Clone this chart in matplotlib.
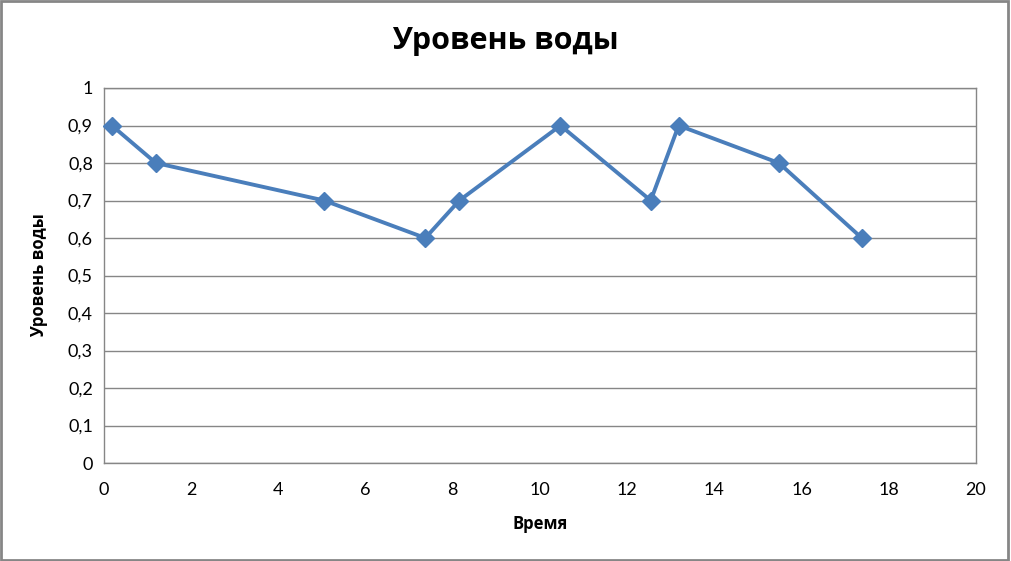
import matplotlib.pyplot as plt
import numpy as np

# water level over time
time = [0.18, 1.19, 5.05, 7.37, 8.15, 10.47, 12.54, 13.18, 15.48, 17.38]
level = [0.9, 0.8, 0.7, 0.6, 0.7, 0.9, 0.7, 0.9, 0.8, 0.6]
x_ticks = [0, 2, 4, 6, 8, 10, 12, 14, 16, 18, 20]
y_ticks = [0, 0.1, 0.2, 0.3, 0.4, 0.5, 0.6, 0.7, 0.8, 0.9, 1.0]

plt.rcParams['font.family'] = ['Lato', 'DejaVu Sans']
bold_font = ['Open Sans', 'DejaVu Sans']

fig = plt.figure(figsize=(10.11, 5.61), dpi=100)
ax = fig.add_axes([104/1011, 1 - 463/561, (976-104)/1011, (463-88)/561])

ax.plot(time, level, color='#4a7ebb', lw=2.8, marker='D', ms=9,
        markerfacecolor='#4a7ebb', markeredgecolor='#4a7ebb', clip_on=False, zorder=3)

ax.set_xlim(0, 20)
ax.set_ylim(0, 1)
ax.set_xticks(x_ticks)
ax.set_yticks(y_ticks)
ax.set_xticklabels([str(t) for t in x_ticks])
ax.set_yticklabels(['0' if v == 0 else ('1' if v == 1 else f'{v:.1f}'.replace('.', ',')) for v in y_ticks])
ax.tick_params(length=0, labelsize=13, colors='black', pad=8)
ax.tick_params(axis='x', pad=14)
ax.grid(axis='y', color='#868686', lw=1)
ax.set_axisbelow(True)
for s in ax.spines.values():
    s.set_color('#868686')
    s.set_linewidth(1)

ax.set_xlabel('Время', fontsize=12, fontweight='bold', family=bold_font, labelpad=12)
ax.set_ylabel('Уровень воды', fontsize=12, fontweight='bold', family=bold_font, labelpad=14)
fig.text(0.5, 1 - 41/561, 'Уровень воды', ha='center', va='center', fontsize=22,
         fontweight='bold', family=bold_font)

# outer chart border
fig.patches.append(plt.Rectangle((0.001, 0.002), 0.996, 0.996, transform=fig.transFigure,
                                 fill=False, edgecolor='#868686', lw=2))

fig.savefig('out.png', dpi=100)
